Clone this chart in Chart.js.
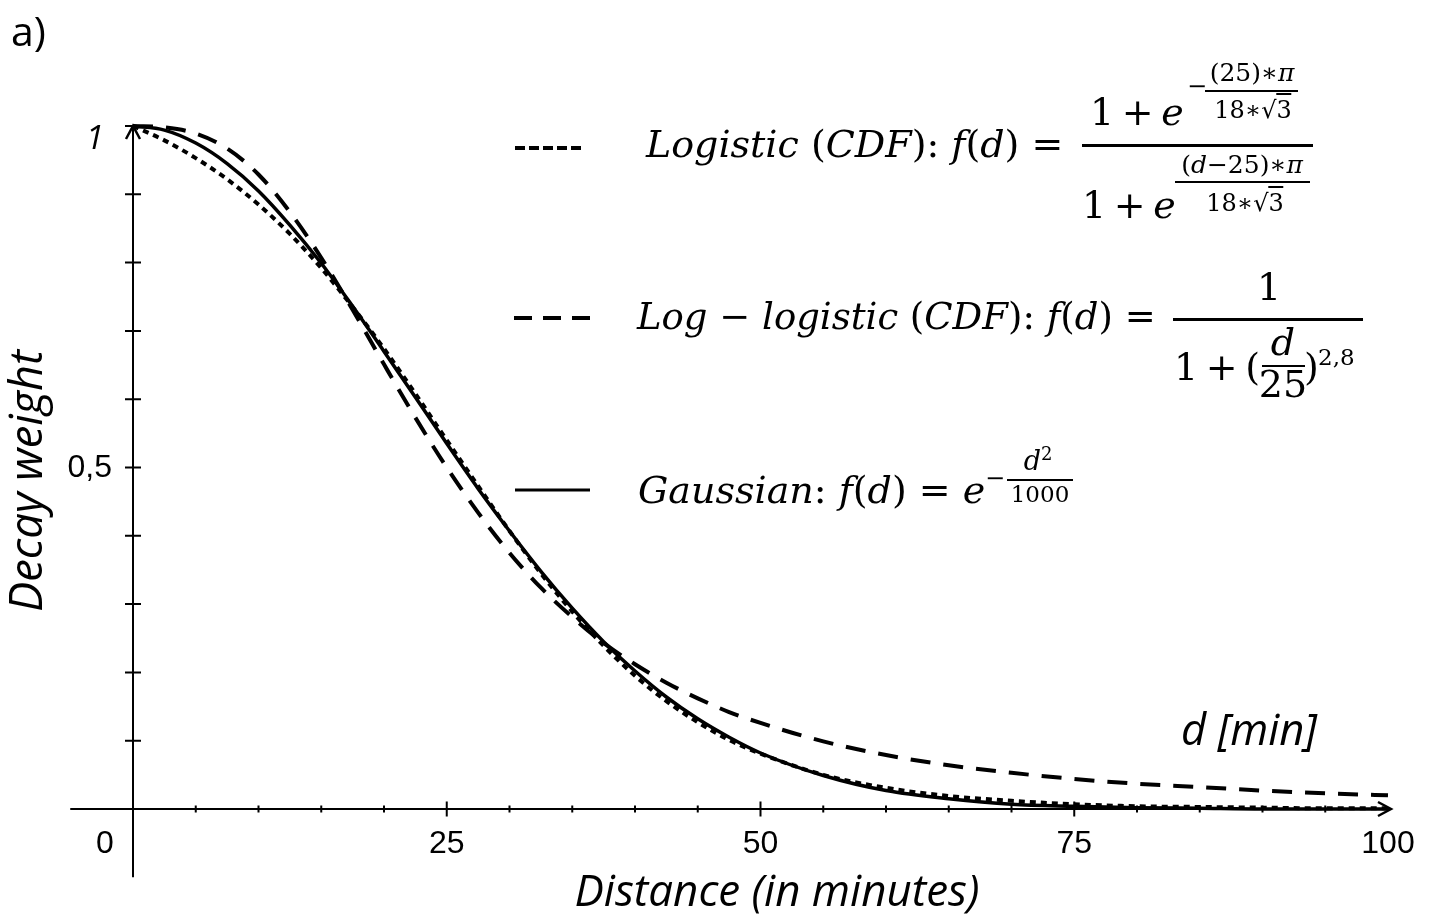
<!DOCTYPE html>
<html>
<head>
<meta charset="utf-8">
<title>Decay weight</title>
<script src="https://cdn.jsdelivr.net/npm/chart.js@4.4.1/dist/chart.umd.min.js"></script>
<style>
  html, body { margin: 0; padding: 0; background: #fff; overflow: hidden; }
  #lienzo { position: relative; width: 1434px; height: 922px; }
  #grafico { position: absolute; left: 0; top: 0; }
  .t { position: absolute; line-height: 1; white-space: nowrap; color: #000;
       font-family: "DejaVu Serif", serif; transform: translateY(-50%); }
  .c { transform: translate(-50%, -50%); }
  .t i { font-style: italic; }
  .raya { position: absolute; background: #000; height: 3px; }
  .raya.fina { height: 2px; }
  .sobre { border-top: 2px solid #000; padding-top: 1px; }
</style>
</head>
<body>
<div id="lienzo">
  <canvas id="grafico" width="1434" height="922"></canvas>

  <!-- Logistic (CDF) -->
  <div class="t" style="left:646px;top:144px;font-size:38px"><i>Logistic</i> (<i>CDF</i>): <i>f</i>(<i>d</i>) =</div>
  <div class="t" style="left:1090px;top:112px;font-size:38px">1&#8201;+&#8201;<i>e</i></div>
  <div class="t" style="left:1187px;top:86px;font-size:24px">−</div>
  <div class="t c" style="left:1252px;top:72px;font-size:25px">(25)∗<i>π</i></div>
  <div class="raya fina" style="left:1205px;top:90px;width:93px"></div>
  <div class="t c" style="left:1253px;top:110px;font-size:24px">18∗√<span class="sobre">3</span></div>
  <div class="raya" style="left:1082px;top:144px;width:231px"></div>
  <div class="t c" style="left:1242px;top:164px;font-size:25px">(<i>d</i>−25)∗<i>π</i></div>
  <div class="raya fina" style="left:1175px;top:181px;width:135px"></div>
  <div class="t c" style="left:1245px;top:203px;font-size:24px">18∗√<span class="sobre">3</span></div>
  <div class="t" style="left:1082px;top:205px;font-size:38px">1&#8201;+&#8201;<i>e</i></div>

  <!-- Log-logistic (CDF) -->
  <div class="t" style="left:637px;top:316px;font-size:37px"><i>Log</i> − <i>logistic</i> (<i>CDF</i>): <i>f</i>(<i>d</i>) =</div>
  <div class="t c" style="left:1269px;top:287px;font-size:38px">1</div>
  <div class="raya" style="left:1173px;top:318px;width:190px"></div>
  <div class="t" style="left:1174px;top:367px;font-size:38px">1&#8201;+&#8201;(</div>
  <div class="t c" style="left:1283px;top:342px;font-size:38px"><i>d</i></div>
  <div class="raya fina" style="left:1262px;top:365px;width:43px"></div>
  <div class="t c" style="left:1283px;top:384px;font-size:38px">25</div>
  <div class="t" style="left:1304px;top:367px;font-size:38px">)</div>
  <div class="t" style="left:1318px;top:357px;font-size:23px">2,8</div>

  <!-- Gaussian -->
  <div class="t" style="left:638px;top:490px;font-size:38px"><i>Gaussian</i>: <i>f</i>(<i>d</i>) = <i>e</i></div>
  <div class="t" style="left:985px;top:478px;font-size:24px">−</div>
  <div class="t c" style="left:1038px;top:459px;font-size:27px"><i>d</i><sup style="font-size:18px">2</sup></div>
  <div class="raya fina" style="left:1007px;top:479px;width:66px"></div>
  <div class="t c" style="left:1040px;top:494px;font-size:23px">1000</div>
</div>

<script>
const minutos = [0, 2.5, 5, 7.5, 10, 12.5, 15, 17.5, 20, 22.5, 25, 27.5, 30, 32.5, 35, 37.5,
                 40, 42.5, 45, 47.5, 50, 55, 60, 65, 70, 75, 80, 85, 90, 95, 100];
const logistica = [1.000, 0.979, 0.953, 0.922, 0.885, 0.842, 0.792, 0.735, 0.674, 0.608, 0.540,
                   0.473, 0.407, 0.345, 0.289, 0.239, 0.195, 0.158, 0.127, 0.101, 0.081,
                   0.050, 0.031, 0.019, 0.012, 0.007, 0.004, 0.003, 0.002, 0.001, 0.001];
const logLogistica = [1.000, 0.998, 0.989, 0.967, 0.929, 0.874, 0.807, 0.731, 0.651, 0.573, 0.500,
                      0.434, 0.375, 0.324, 0.281, 0.243, 0.212, 0.185, 0.162, 0.142, 0.126,
                      0.099, 0.079, 0.064, 0.053, 0.044, 0.037, 0.032, 0.027, 0.023, 0.020];
const gaussiana = [1.000, 0.994, 0.975, 0.945, 0.905, 0.855, 0.799, 0.736, 0.670, 0.603, 0.535,
                   0.469, 0.407, 0.348, 0.294, 0.245, 0.202, 0.164, 0.132, 0.105, 0.082,
                   0.049, 0.027, 0.015, 0.007, 0.004, 0.002, 0.001, 0.000, 0.000, 0.000];

// Etiquetas de los ejes
const ticksX = [0, 25, 50, 75, 100];
const etiquetasX = ['0', '25', '50', '75', '100'];
const ticksY = [1, 0.5];
const etiquetasY = ['1', '0,5'];

const puntos = serie => minutos.map((m, i) => ({ x: m, y: serie[i] }));

function ajustarTexto(ctx, texto, ancho, estilo, familia) {
  ctx.font = `${estilo} 40px ${familia}`;
  const tam = 40 * ancho / ctx.measureText(texto).width;
  ctx.font = `${estilo} ${tam.toFixed(1)}px ${familia}`;
}

// Ejes con flechas, marcas cruzadas y rotulos
const ejes = {
  id: 'ejes',
  beforeDatasetsDraw(chart) {
    const { ctx, scales: { x, y } } = chart;
    const x0 = x.getPixelForValue(0);
    const y0 = y.getPixelForValue(0);
    const xFin = x.getPixelForValue(100) + 3;
    const yTop = y.getPixelForValue(1);

    ctx.save();
    ctx.strokeStyle = '#000';
    ctx.lineWidth = 2;
    ctx.beginPath();
    ctx.moveTo(x.getPixelForValue(-5), y0);
    ctx.lineTo(xFin, y0);
    ctx.moveTo(x0, y.getPixelForValue(-0.1));
    ctx.lineTo(x0, yTop);
    for (let v = 5; v < 100; v += 5) {
      const px = x.getPixelForValue(v);
      const h = v % 25 === 0 ? 7.5 : 3.5;
      ctx.moveTo(px, y0 - h);
      ctx.lineTo(px, y0 + h);
    }
    for (let k = 1; k <= 10; k++) {
      const py = y.getPixelForValue(k / 10);
      ctx.moveTo(x0 - 8, py);
      ctx.lineTo(x0 + 8, py);
    }
    ctx.stroke();

    // flechas
    ctx.lineWidth = 2.5;
    ctx.beginPath();
    ctx.moveTo(xFin - 13, y0 - 7);
    ctx.lineTo(xFin, y0);
    ctx.lineTo(xFin - 13, y0 + 7);
    ctx.moveTo(x0 - 7, yTop + 13);
    ctx.lineTo(x0, yTop);
    ctx.lineTo(x0 + 7, yTop + 13);
    ctx.stroke();

    // rotulos de los ticks
    ctx.fillStyle = '#000';
    ctx.textBaseline = 'middle';
    ctx.textAlign = 'center';
    ctx.font = '32px "Liberation Sans", Arial, sans-serif';
    ticksX.forEach((v, i) => {
      const px = v === 0 ? x0 - 28 : x.getPixelForValue(v);
      ctx.fillText(etiquetasX[i], px, y0 + 35);
    });
    ctx.textAlign = 'right';
    ticksY.forEach((v, i) => {
      if (v === 1) {
        ctx.font = 'italic 33px "Open Sans", sans-serif';
        ctx.fillText(etiquetasY[i], x0 - 29, y.getPixelForValue(v) + 14);
      } else {
        ctx.font = '32px "Liberation Sans", Arial, sans-serif';
        ctx.fillText(etiquetasY[i], x0 - 21, y.getPixelForValue(v) + 1);
      }
    });

    // titulos
    ctx.textAlign = 'center';
    ajustarTexto(ctx, 'Distance (in minutes)', 405, 'italic', '"Open Sans", sans-serif');
    ctx.fillText('Distance (in minutes)', 777, 893);
    ajustarTexto(ctx, 'd [min]', 136, 'italic', '"Open Sans", sans-serif');
    ctx.fillText('d [min]', 1249, 733);
    ctx.save();
    ctx.translate(29, 481);
    ctx.rotate(-Math.PI / 2);
    ajustarTexto(ctx, 'Decay weight', 262, 'italic', '"Open Sans", sans-serif');
    ctx.fillText('Decay weight', 0, 0);
    ctx.restore();

    ctx.textAlign = 'left';
    ctx.textBaseline = 'alphabetic';
    ctx.font = '41px "Open Sans", sans-serif';
    ctx.fillText('a)', 11, 46);

    // muestras de la leyenda
    const muestras = [
      { y: 148, dash: [10, 4], w: 4, x1: 515, x2: 585 },
      { y: 318, dash: [18, 11], w: 4, x1: 514, x2: 590 },
      { y: 490, dash: [], w: 3, x1: 515, x2: 590 }
    ];
    muestras.forEach(m => {
      ctx.setLineDash(m.dash);
      ctx.lineWidth = m.w;
      ctx.beginPath();
      ctx.moveTo(m.x1, m.y);
      ctx.lineTo(m.x2, m.y);
      ctx.stroke();
    });
    ctx.restore();
  }
};

new Chart(document.getElementById('grafico'), {
  type: 'line',
  data: {
    datasets: [
      { label: 'Logistic (CDF)', data: puntos(logistica), borderColor: '#000',
        borderWidth: 4, borderDash: [6, 5] },
      { label: 'Log-logistic (CDF)', data: puntos(logLogistica), borderColor: '#000',
        borderWidth: 4, borderDash: [20, 13] },
      { label: 'Gaussian', data: puntos(gaussiana), borderColor: '#000',
        borderWidth: 3.5 }
    ]
  },
  options: {
    responsive: false,
    animation: false,
    clip: false,
    layout: { padding: { left: 133, right: 46, top: 126, bottom: 113 } },
    elements: {
      point: { radius: 0 },
      line: { cubicInterpolationMode: 'monotone', fill: false }
    },
    scales: {
      x: { type: 'linear', min: 0, max: 100, display: false },
      y: { min: 0, max: 1, display: false }
    },
    plugins: { legend: { display: false }, tooltip: { enabled: false } }
  },
  plugins: [ejes]
});
</script>
</body>
</html>
